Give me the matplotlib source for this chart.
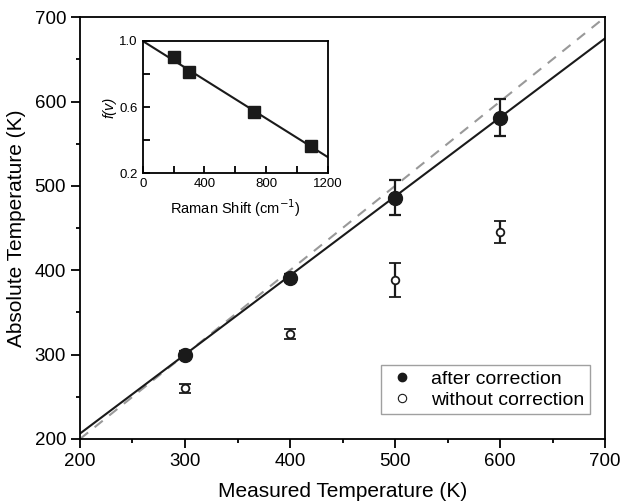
import matplotlib.pyplot as plt
import numpy as np

plt.rcParams['font.family'] = ['Liberation Sans', 'DejaVu Sans']

# main panel data
measured = [300, 400, 500, 600]
after_corr = [300, 391, 486, 581]
after_err = [4, 5, 21, 22]
without_corr = [260, 324, 388, 445]
without_err = [5, 6, 20, 13]

# linear fit
fit_slope = 0.937
fit_icpt = 19.0
fit_x = [200, 700]

# inset data
raman_shift = [200, 300, 720, 1088]
f_nu = [0.90, 0.815, 0.57, 0.365]
inset_slope = -0.000587
inset_x = [0, 1200]

fig = plt.figure(figsize=(6.2, 5.04), dpi=100)
ax = fig.add_axes([0.129, 0.129, 0.847, 0.837])

ax.plot([200, 700], [200, 700], color='#999999', ls=(0, (5, 4)), lw=1.5, zorder=1)
fx = np.array(fit_x)
ax.plot(fx, fit_slope * fx + fit_icpt, color='#1a1a1a', lw=1.5, zorder=2)

ax.errorbar(measured, after_corr, yerr=after_err, fmt='o', color='#1a1a1a',
            ms=10, capsize=4.5, elinewidth=1.6, capthick=1.6, zorder=3)
ax.errorbar(measured, without_corr, yerr=without_err, fmt='o', color='#1a1a1a',
            mfc='white', mec='#1a1a1a', mew=1.3, ms=5.5, capsize=4.5,
            elinewidth=1.6, capthick=1.6, zorder=3)

# legend proxies with small markers
h1, = ax.plot([], [], 'o', color='#1a1a1a', ms=6)
h2, = ax.plot([], [], 'o', mfc='white', mec='#1a1a1a', mew=0.8, ms=6)
leg = ax.legend([h1, h2], ['after correction', 'without correction'],
                loc='lower right', bbox_to_anchor=(0.99, 0.035), fontsize=14,
                fancybox=False, handletextpad=0.7, borderpad=0.3,
                labelspacing=0.15, handlelength=1.6)
leg.get_frame().set_edgecolor('#888888')
leg.get_frame().set_linewidth(1.0)

ax.set_xlim(200, 700)
ax.set_ylim(200, 700)
ax.set_xticks(range(200, 701, 100))
ax.set_yticks(range(200, 701, 100))
ax.set_xticks(range(250, 700, 100), minor=True)
ax.set_yticks(range(250, 700, 100), minor=True)
ax.tick_params(which='major', direction='out', length=6.5, width=1.3, labelsize=13.5)
ax.tick_params(which='minor', direction='out', length=3, width=1.3)
for s in ax.spines.values():
    s.set_linewidth(1.3)
ax.set_xlabel('Measured Temperature (K)', fontsize=15, labelpad=9)
ax.set_ylabel('Absolute Temperature (K)', fontsize=15, labelpad=6)

# inset
ins = fig.add_axes([142.7 / 620, 1 - 173 / 504, (328 - 142.7) / 620, (173 - 41) / 504])
ix = np.array(inset_x)
ins.plot(ix, 1.0 + inset_slope * ix, color='#1a1a1a', lw=1.5)
ins.plot(raman_shift, f_nu, 's', color='#1a1a1a', ms=8)
ins.set_xlim(0, 1200)
ins.set_ylim(0.2, 1.0)
ins.set_xticks([0, 400, 800, 1200])
ins.set_xticks([200, 600, 1000], minor=True)
ins.set_yticks([0.2, 0.6, 1.0])
ins.set_yticks([0.4, 0.8], minor=True)
ins.tick_params(which='both', direction='in', length=5, width=1.3, labelsize=9.5)
for s in ins.spines.values():
    s.set_linewidth(1.3)
ins.set_xlabel('Raman Shift (cm$^{-1}$)', fontsize=10.5, labelpad=5)
ins.set_ylabel('f(v)', fontsize=10.5, fontstyle='italic', labelpad=2)

fig.savefig('out.png', dpi=100)
